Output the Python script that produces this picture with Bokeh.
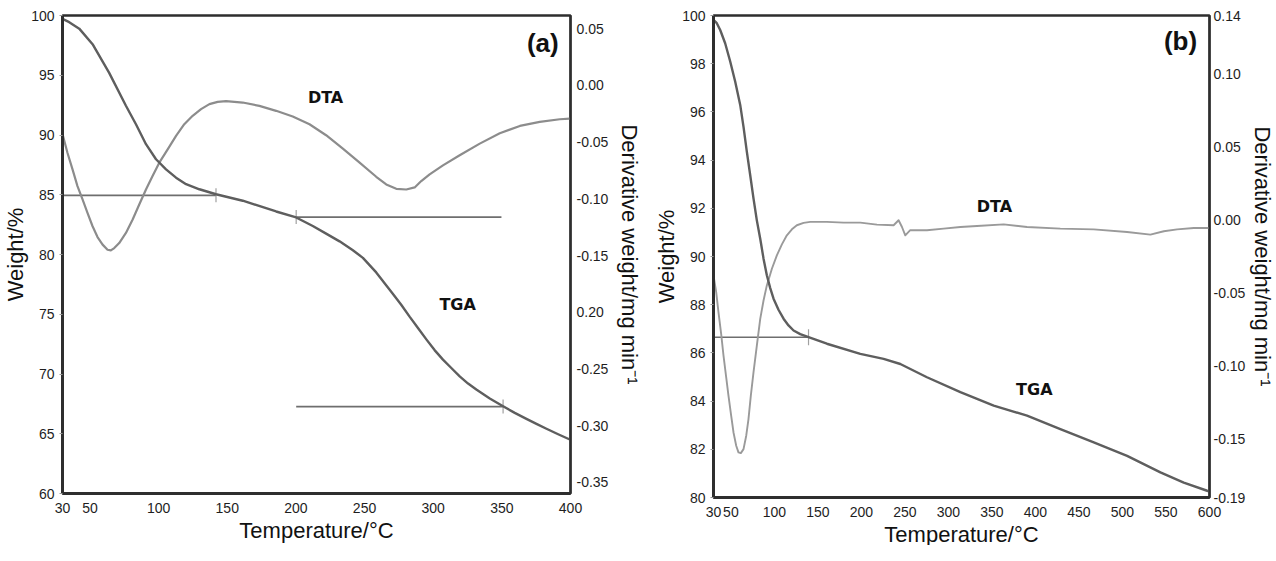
import numpy as np
from bokeh.plotting import figure
from bokeh.models import Range1d, LinearAxis, FixedTicker, NumeralTickFormatter, Label
from bokeh.layouts import row
from bokeh.embed import file_html
from bokeh.resources import INLINE

# ---------------- Panel (a) data ----------------
a_tga_t = [30, 34.9, 42.2, 51.9, 64, 76.2, 83.5, 90.8, 98.1, 105.4, 112.7, 120, 129.7, 141.8,
           161.3, 185.6, 200.2, 212.3, 222, 231.8, 241.5, 248.8, 258.5, 264.6, 270.7, 276.7,
           282.8, 288.9, 295, 301, 307.1, 313.2, 319.3, 325.4, 331.4, 341.2, 350.9, 359.4,
           367.9, 375.2, 382.5, 391, 399.5]
a_tga_w = [99.72, 99.44, 98.9, 97.6, 95.2, 92.45, 90.9, 89.23, 87.97, 87.13, 86.43, 85.88,
           85.46, 85.04, 84.5, 83.6, 83.1, 82.38, 81.75, 81.1, 80.35, 79.72, 78.5, 77.6, 76.7,
           75.8, 74.8, 73.85, 72.9, 72.0, 71.2, 70.5, 69.8, 69.2, 68.7, 67.95, 67.3, 66.75,
           66.25, 65.83, 65.42, 64.96, 64.52]
a_dta_t = [30, 33.6, 37.3, 40.9, 44.6, 48.2, 51.9, 55.5, 59.2, 62.8, 65.2, 67.7, 71.3, 76.2,
           81.1, 85.9, 90.8, 95.6, 100.5, 106.6, 112.7, 118.7, 124.8, 130.9, 137, 143, 149.1,
           161.3, 173.4, 185.6, 197.7, 209.9, 222, 234.2, 246.4, 258.5, 265.8, 273.1, 280.4,
           286.5, 291.3, 297.4, 307.1, 319.3, 333.9, 348.5, 363.1, 377.6, 392.2, 399.5]
a_dta_d = [-0.0430, -0.0594, -0.0741, -0.0888, -0.1006, -0.1124, -0.1242, -0.1337, -0.1404,
           -0.1449, -0.1455, -0.1434, -0.1390, -0.1301, -0.1183, -0.1051, -0.0918, -0.0800,
           -0.0682, -0.0564, -0.0446, -0.0343, -0.0269, -0.0210, -0.0166, -0.0146, -0.0140,
           -0.0152, -0.0181, -0.0225, -0.0275, -0.0343, -0.0440, -0.0558, -0.0682, -0.0806,
           -0.0874, -0.0912, -0.0918, -0.0900, -0.0844, -0.0785, -0.0706, -0.0617, -0.0514,
           -0.0423, -0.0358, -0.0322, -0.0299, -0.0293]
a_step_t0 = [30, 200.2, 200.2]
a_step_t1 = [141.8, 349.7, 350.9]
a_step_w = [84.95, 83.13, 67.27]
a_mark_t = [141.8, 200.2, 350.9]
a_mark_w = [84.95, 83.13, 67.27]
a_xticks = [30, 50, 100, 150, 200, 250, 300, 350, 400]
a_wticks = [60, 65, 70, 75, 80, 85, 90, 95, 100]
a_dticks = [0.05, 0.0, -0.05, -0.1, -0.15, -0.2, -0.25, -0.3, -0.35]

# ---------------- Panel (b) data ----------------
b_tga_t = [30, 33.8, 37.7, 43.4, 49.2, 54.9, 60.7, 64.5, 68.3, 72.2, 76, 79.8, 83.7, 87.5,
           91.3, 95.2, 99, 104.7, 110.5, 116.2, 122, 129.7, 139.2, 160.3, 198.7, 225.5, 244.7,
           275.3, 313.7, 352, 390.3, 428.6, 467, 505.3, 543.6, 570.4, 597.3, 600]
b_tga_w = [99.82, 99.68, 99.40, 98.85, 98.09, 97.26, 96.29, 95.38, 94.35, 93.37, 92.40,
           91.50, 90.74, 89.91, 89.22, 88.69, 88.25, 87.79, 87.42, 87.14, 86.93, 86.78, 86.65,
           86.38, 85.96, 85.75, 85.54, 84.99, 84.37, 83.81, 83.40, 82.84, 82.29, 81.73, 81.04,
           80.62, 80.28, 80.25]
b_dta_t = [30, 33.1, 35.7, 38.8, 41.5, 44.6, 47.2, 50.3, 53, 56.1, 58.7, 61.4, 64.5, 67.6,
           70.2, 72.9, 76, 79.8, 83.7, 87.5, 91.3, 97.1, 102.8, 108.6, 114.3, 120.1, 125.8,
           133.5, 141.2, 160.3, 179.5, 198.7, 217.8, 237, 242.7, 246.6, 250.4, 256.1, 275.3,
           294.5, 313.7, 332.8, 363.5, 390.3, 428.6, 467, 505.3, 532.1, 547.5, 562.8, 582,
           599.2]
b_dta_d = [-0.0379, -0.0494, -0.0631, -0.0780, -0.0928, -0.1077, -0.1203, -0.1340, -0.1455,
           -0.1546, -0.1591, -0.1596, -0.1569, -0.1477, -0.1363, -0.1203, -0.1042, -0.0860,
           -0.0677, -0.0551, -0.0448, -0.0334, -0.0242, -0.0167, -0.0105, -0.0064, -0.0036,
           -0.0020, -0.0013, -0.0013, -0.0018, -0.0018, -0.0032, -0.0036, -0.0002, -0.0048,
           -0.0105, -0.0070, -0.0070, -0.0059, -0.0048, -0.0041, -0.0030, -0.0048, -0.0059,
           -0.0064, -0.0082, -0.0100, -0.0077, -0.0064, -0.0055, -0.0055]
b_step_t0 = [30]
b_step_t1 = [139.2]
b_step_w = [86.65]
b_mark_t = [139.2]
b_mark_w = [86.65]
b_xticks = [30, 50, 100, 150, 200, 250, 300, 350, 400, 450, 500, 550, 600]
b_wticks = [80, 82, 84, 86, 88, 90, 92, 94, 96, 98, 100]
b_dticks = [0.14, 0.10, 0.05, 0.0, -0.05, -0.10, -0.15, -0.19]

FONT = "Liberation Sans"
TGA_COL = "#5e5e5e"
STEP_COL = "#6e6e6e"


def style_axis(ax, line_w, tick_out, label_standoff, axis_label_standoff):
    ax.axis_line_color = "#2e2e2e"
    ax.axis_line_width = line_w
    ax.major_tick_in = 0
    ax.major_tick_out = tick_out
    ax.major_tick_line_color = "#9a9a9a"
    ax.minor_tick_line_color = None
    ax.major_label_text_font = FONT
    ax.major_label_text_font_size = "14px"
    ax.major_label_text_color = "#1e1e1e"
    ax.major_label_standoff = label_standoff
    ax.axis_label_text_font = FONT
    ax.axis_label_text_font_size = "22px"
    ax.axis_label_text_font_style = "normal"
    ax.axis_label_text_color = "#111111"
    ax.axis_label_standoff = axis_label_standoff


def make_panel(xr, yr, dr, frame_w, frame_h, borders, xticks, wticks, dticks,
               tga_t, tga_w, dta_t, dta_d, st0, st1, sw, mt, mw, mark_size,
               dfmt_overrides, labels, dta_col, dta_w, r_standoffs):
    p = figure(frame_width=frame_w, frame_height=frame_h,
               x_range=Range1d(*xr), y_range=Range1d(*yr),
               output_backend="svg", toolbar_location=None,
               min_border_left=borders[0], min_border_right=borders[1],
               min_border_top=borders[2], min_border_bottom=borders[3])
    p.extra_y_ranges = {"d": Range1d(*dr)}
    p.xgrid.visible = False
    p.ygrid.visible = False
    p.background_fill_color = "white"
    p.border_fill_color = "white"
    p.outline_line_color = "#2e2e2e"
    p.outline_line_width = 2.5
    p.outline_line_alpha = 1.0

    p.xaxis.ticker = FixedTicker(ticks=xticks)
    p.yaxis.ticker = FixedTicker(ticks=wticks)
    p.xaxis.axis_label = "Temperature/°C"
    p.yaxis.axis_label = "Weight/%"
    style_axis(p.xaxis[0], 3, 0, 9, 2)
    style_axis(p.yaxis[0], 3, 3, 5, 0)

    rax = LinearAxis(y_range_name="d", ticker=FixedTicker(ticks=dticks),
                     formatter=NumeralTickFormatter(format="0.00"),
                     axis_label="Derivative weight/mg min⁻¹")
    if dfmt_overrides:
        rax.major_label_overrides = dfmt_overrides
    style_axis(rax, 2, 0, r_standoffs[0], r_standoffs[1])
    p.add_layout(rax, "right")

    # step lines
    p.segment(x0=st0, x1=st1, y0=sw, y1=sw, line_color=STEP_COL, line_width=1.6)
    p.scatter(x=mt, y=mw, marker="dash", angle=np.pi / 2, size=mark_size,
              line_color="#a0a0a0", line_width=1.2)
    # curves
    p.line(dta_t, dta_d, y_range_name="d", line_color=dta_col, line_width=dta_w,
           line_join="round", line_cap="round")
    p.line(tga_t, tga_w, line_color=TGA_COL, line_width=2.4, line_join="round",
           line_cap="round")

    for (txt, x, y, size, font) in labels:
        p.add_layout(Label(x=x, y=y, text=txt, text_font=font, text_font_size=size,
                           text_font_style="bold", text_color="#111111",
                           text_align="center", text_baseline="middle"))
    return p


pa = make_panel((30, 400), (60, 100), (-0.3597, 0.0615), 508, 478, (55, 74, 15, 52),
                a_xticks, a_wticks, a_dticks, a_tga_t, a_tga_w, a_dta_t, a_dta_d,
                a_step_t0, a_step_t1, a_step_w, a_mark_t, a_mark_w, 14,
                {-0.2: "0.20"},
                [("(a)", 379.8, 97.7, "26px", FONT),
                 ("DTA", 221.6, 93.1, "16px", "DejaVu Sans"),
                 ("TGA", 317.8, 75.8, "16px", "DejaVu Sans")],
                "#8c8c8c", 2.2, (6, 6))

pb = make_panel((30, 600), (80, 100), (-0.19, 0.14), 496, 482, (68, 57, 11, 52),
                b_xticks, b_wticks, b_dticks, b_tga_t, b_tga_w, b_dta_t, b_dta_d,
                b_step_t0, b_step_t1, b_step_w, b_mark_t, b_mark_w, 16,
                None,
                [("(b)", 566.7, 98.96, "26px", FONT),
                 ("DTA", 352.8, 92.07, "16px", "DejaVu Sans"),
                 ("TGA", 398.7, 84.48, "16px", "DejaVu Sans")],
                "#9a9a9a", 1.9, (4, 2))

layout = row(pa, pb)
open("out.html", "w").write(file_html(layout, INLINE))
